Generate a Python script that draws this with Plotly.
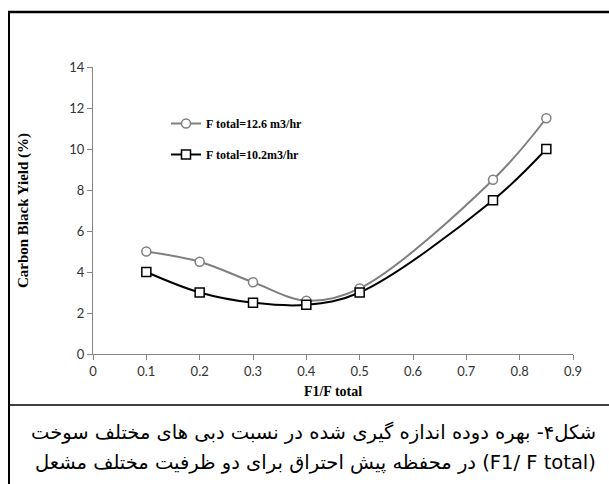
import plotly.graph_objects as go

# ---- data ----
ratio_a = [0.1, 0.2, 0.3, 0.4, 0.5, 0.75, 0.85]
yield_a = [5.0, 4.5, 3.5, 2.6, 3.2, 8.5, 11.5]
ratio_b = [0.1, 0.2, 0.3, 0.4, 0.5, 0.75, 0.85]
yield_b = [4.0, 3.0, 2.5, 2.4, 3.0, 7.5, 10.0]
name_a = "F total=12.6 m3/hr"
name_b = "F total=10.2m3/hr"
x_ticks = [0, 0.1, 0.2, 0.3, 0.4, 0.5, 0.6, 0.7, 0.8, 0.9]
x_tick_text = ["0", "0.1", "0.2", "0.3", "0.4", "0.5", "0.6", "0.7", "0.8", "0.9"]
y_ticks = [0, 2, 4, 6, 8, 10, 12, 14]
caption_1 = "شکل۴- بهره دوده اندازه گیری شده در نسبت دبی های مختلف سوخت"
caption_2 = "در محفظه پیش احتراق برای دو ظرفیت مختلف مشعل (F1/ F total)"

W, H = 609, 484
L, R, T, B = 93, 36, 67, 130
pw, ph = W - L - R, H - T - B


def px(x):
    return (x - L) / pw


def py(y):
    return (H - B - y) / ph


fig = go.Figure()
fig.add_trace(go.Scatter(
    x=ratio_a, y=yield_a, name=name_a, mode="lines+markers",
    line=dict(color="#7f7f7f", width=2, shape="spline", smoothing=1.0),
    marker=dict(symbol="circle", size=9, color="white",
                line=dict(color="#7f7f7f", width=1.5)),
    legendgroup="a",
))
fig.add_trace(go.Scatter(
    x=ratio_b, y=yield_b, name=name_b, mode="lines+markers",
    line=dict(color="black", width=2, shape="spline", smoothing=1.0),
    marker=dict(symbol="square", size=9, color="white",
                line=dict(color="black", width=1.5)),
    legendgroup="b",
))

axis_common = dict(
    showgrid=False, zeroline=False, showline=True, linecolor="#868686",
    linewidth=1.3, ticks="outside", ticklen=5, tickcolor="#868686",
    tickwidth=1, tickfont=dict(family="Lato", size=13, color="#333333"),
)
fig.update_xaxes(range=[0, 0.9], tickvals=x_ticks, ticktext=x_tick_text,
                 title=dict(text="<b>F1/F total</b>", standoff=8,
                            font=dict(family="Liberation Serif", size=14, color="black")),
                 **axis_common)
fig.update_yaxes(range=[0, 14], tickvals=y_ticks,
                 title=dict(text="<b>Carbon Black Yield (%)</b>", standoff=36,
                            font=dict(family="Liberation Serif", size=15, color="black")),
                 **axis_common)

shapes = [
    dict(type="line", xref="paper", yref="paper", x0=px(9), x1=px(9),
         y0=py(12), y1=py(490), line=dict(color="black", width=2)),
    dict(type="line", xref="paper", yref="paper", x0=px(8), x1=px(612),
         y0=py(12), y1=py(12), line=dict(color="black", width=2.5)),
    dict(type="line", xref="paper", yref="paper", x0=px(9), x1=px(612),
         y0=py(405), y1=py(405), line=dict(color="black", width=1.3)),
]

annotations = [
    dict(text=caption_1, xref="paper", yref="paper", x=px(598), y=py(432),
         xanchor="right", yanchor="middle", showarrow=False,
         font=dict(family="DejaVu Sans", size=19.5, color="black")),
    dict(text=caption_2, xref="paper", yref="paper", x=px(598), y=py(462),
         xanchor="right", yanchor="middle", showarrow=False,
         font=dict(family="DejaVu Sans", size=19.5, color="black")),
]

fig.update_layout(
    width=W, height=H, margin=dict(l=L, r=R, t=T, b=B),
    paper_bgcolor="white", plot_bgcolor="white",
    shapes=shapes, annotations=annotations,
    legend=dict(x=px(166), y=py(109), xanchor="left", yanchor="top",
                bgcolor="rgba(0,0,0,0)", tracegroupgap=12,
                font=dict(family="Liberation Serif", size=12, color="black",
                          weight="bold"),
                itemwidth=30),
    showlegend=True,
)
fig.write_html("out.html")
